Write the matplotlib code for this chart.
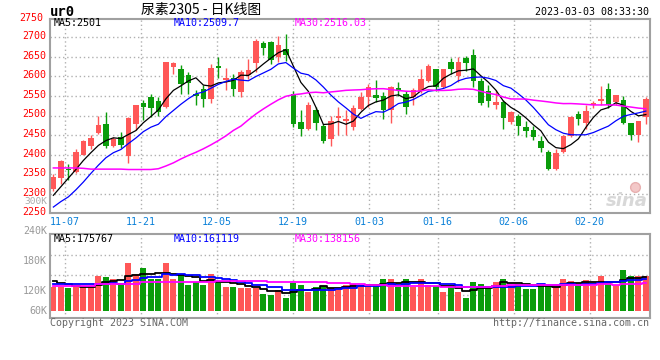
import numpy as np
import pandas as pd
import matplotlib
matplotlib.use('Agg')
import matplotlib.pyplot as plt
import matplotlib.transforms as mtransforms

# ur0 日K (2022-11-03 ~ 2023-03-02)
opens = [2313, 2340, 2364, 2355, 2400, 2423, 2456, 2479, 2423, 2445,
         2397, 2479, 2531, 2547, 2538, 2521, 2625, 2619, 2604, 2555,
         2568, 2543, 2628, 2591, 2595, 2560, 2604, 2634, 2685, 2687,
         2651, 2669, 2554, 2483, 2466, 2515, 2473, 2440, 2494, 2487,
         2472, 2517, 2547, 2553, 2549, 2514, 2570, 2554, 2547, 2562,
         2588, 2619, 2572, 2636, 2602, 2646, 2655, 2589, 2562, 2527,
         2534, 2483, 2500, 2472, 2462, 2436, 2406, 2364, 2406, 2449,
         2503, 2481, 2527, 2538, 2568, 2534, 2540, 2480, 2451, 2496]
highs = [2351, 2387, 2377, 2415, 2438, 2451, 2498, 2510, 2445, 2457,
         2497, 2528, 2540, 2554, 2547, 2636, 2636, 2629, 2611, 2566,
         2577, 2632, 2651, 2621, 2606, 2617, 2645, 2696, 2690, 2691,
         2704, 2709, 2564, 2513, 2534, 2523, 2479, 2500, 2521, 2513,
         2526, 2560, 2581, 2591, 2560, 2575, 2585, 2564, 2570, 2619,
         2632, 2619, 2619, 2647, 2651, 2653, 2670, 2595, 2577, 2566,
         2540, 2511, 2504, 2486, 2474, 2449, 2412, 2415, 2451, 2498,
         2511, 2526, 2538, 2575, 2583, 2553, 2551, 2480, 2487, 2547]
lows = [2308, 2326, 2336, 2352, 2398, 2415, 2453, 2417, 2419, 2417,
        2379, 2463, 2489, 2496, 2500, 2520, 2606, 2555, 2555, 2526,
        2521, 2532, 2596, 2566, 2549, 2547, 2594, 2611, 2655, 2632,
        2636, 2640, 2470, 2449, 2462, 2463, 2429, 2421, 2451, 2451,
        2462, 2515, 2521, 2534, 2492, 2481, 2549, 2503, 2526, 2557,
        2585, 2564, 2570, 2606, 2585, 2615, 2572, 2528, 2523, 2517,
        2466, 2479, 2451, 2446, 2438, 2406, 2361, 2361, 2404, 2445,
        2476, 2466, 2519, 2526, 2520, 2526, 2479, 2438, 2432, 2479]
closes = [2343, 2383, 2360, 2406, 2434, 2442, 2476, 2422, 2441, 2425,
          2494, 2526, 2523, 2520, 2509, 2636, 2634, 2581, 2583, 2549,
          2543, 2621, 2622, 2595, 2568, 2611, 2617, 2690, 2674, 2642,
          2681, 2656, 2479, 2466, 2527, 2480, 2434, 2485, 2499, 2491,
          2520, 2547, 2572, 2545, 2514, 2572, 2562, 2523, 2566, 2594,
          2626, 2572, 2619, 2619, 2636, 2634, 2589, 2531, 2537, 2534,
          2494, 2509, 2474, 2460, 2445, 2417, 2364, 2404, 2447, 2496,
          2491, 2511, 2531, 2543, 2526, 2553, 2480, 2451, 2486, 2543]
# 成交量 (千手)
volumes = [126, 126, 117, 130, 126, 130, 182, 175, 165, 144,
           252, 193, 222, 165, 165, 252, 165, 193, 135, 152,
           135, 193, 144, 126, 126, 121, 121, 117, 88, 82,
           109, 68, 144, 135, 100, 126, 130, 117, 117, 135,
           140, 135, 135, 135, 166, 166, 126, 166, 126, 166,
           135, 130, 100, 126, 100, 68, 152, 140, 130, 152,
           166, 135, 140, 114, 114, 135, 135, 135, 166, 156,
           130, 161, 130, 182, 156, 135, 214, 182, 182, 182]

# 均线开头几天依赖更早的数据, 这部分直接从图上读
ma5_head = [2296, 2318, 2340, 2362]
ma10_head = [2266, 2280, 2292, 2310, 2330, 2352, 2373, 2392, 2405]
ma30_head = [2366, 2366, 2366, 2366, 2365, 2363, 2363, 2363, 2363, 2363,
             2362, 2362, 2362, 2362, 2364, 2371, 2379, 2389, 2398, 2406,
             2415, 2425, 2436, 2448, 2462, 2473, 2489, 2504, 2517]
vma5_head = [156, 144, 138, 128]
vma10_head = [140, 140, 138, 138, 138, 138, 140, 142, 144]
vma30_head = [130, 130, 130, 130, 130, 130, 138, 138, 138, 138,
              138, 138, 148, 148, 148, 148, 148, 148, 148, 148,
              148, 148, 155, 155, 155, 155, 155, 155, 155]

tick_idx = [2, 12, 22, 32, 42, 51, 61, 71]
tick_labels = ['11-07', '11-21', '12-05', '12-19', '01-03', '01-16', '02-06', '02-20']
price_ticks = [2250, 2300, 2350, 2400, 2450, 2500, 2550, 2600, 2650, 2700]


def ma(values, n, head):
    out = pd.Series(values, dtype=float).rolling(n).mean().to_numpy()
    out[:len(head)] = head
    return out


RED = '#ff5757'
GREEN = '#0a9c0a'
GRID = '#b0b0b0'
BORDER = '#a0a0a0'
MONO = 'DejaVu Sans Mono'
FS = 7.2

x = np.arange(len(closes))
o = np.array(opens)
c = np.array(closes)
up = c >= o
colors = np.where(up, RED, GREEN)
# 网格线比K线间距略宽一点 (7.6px vs 7.5px)
grid_x = [i * 7.6 / 7.5 - 0.44 for i in tick_idx]

fig = plt.figure(figsize=(6.6, 3.6), dpi=100)
W, H = 660.0, 360.0
ax = fig.add_axes([50 / W, 1 - 213.3 / H, 600 / W, 194.3 / H])
axv = fig.add_axes([50 / W, 1 - 318.3 / H, 600 / W, 84 / H])

# ---- K线 ----
ax.vlines(x, lows, highs, colors=colors, lw=1)
body = np.maximum(np.abs(c - o), 2.5)
ax.bar(x, body, bottom=np.minimum(o, c), width=0.72, color=colors, linewidth=0)
ax.plot(x, ma(closes, 5, ma5_head), color='black', lw=0.9)
ax.plot(x, ma(closes, 10, ma10_head), color='#0000ff', lw=0.9)
ax.plot(x, ma(closes, 30, ma30_head), color='#ff00ff', lw=1.1)

ax.set_xlim(-0.45, 79.55)
ax.set_ylim(2250, 2747)
for p in price_ticks[1:]:
    ax.axhline(p, color=GRID, lw=1, ls=(0, (1, 2)), zorder=0)
for gx in grid_x:
    ax.axvline(gx, color=GRID, lw=1, ls=(0, (1, 2)), zorder=0)
ax.set_yticks(price_ticks)
ax.set_yticklabels([str(p) for p in price_ticks], color='red', family=MONO, fontsize=FS)
ax.set_xticks(grid_x)
ax.set_xticklabels(tick_labels, color='#0a80d8', family=MONO, fontsize=FS)
ax.tick_params(length=0, pad=3)
ax.tick_params(axis='x', pad=2.5)
shift = mtransforms.ScaledTranslation(0, 1.5 / 72, fig.dpi_scale_trans)
for lbl in ax.get_yticklabels():
    lbl.set_transform(lbl.get_transform() + shift)
ax.text(-0.012, 2750, '2750', transform=ax.get_yaxis_transform(), ha='right', va='center',
        color='red', family=MONO, fontsize=FS)

# sina 水印: 眼睛图标 + 文字
ax.plot([0.975], [0.135], marker='o', ms=7, color='#f3c8c8', mec='#e8b0b0',
        transform=ax.transAxes, zorder=0)
ax.text(0.997, 0.065, 'sina', transform=ax.transAxes, ha='right', va='center',
        fontsize=13, fontweight='bold', style='italic', color='#d8d8d8', zorder=0)

# ---- 成交量 ----
axv.bar(x, volumes, width=0.78, color=colors, linewidth=0)
axv.plot(x, ma(volumes, 5, vma5_head), color='black', lw=1.3, drawstyle='steps-mid')
axv.plot(x, ma(volumes, 10, vma10_head), color='#0000ff', lw=1.3, drawstyle='steps-mid')
axv.plot(x, ma(volumes, 30, vma30_head), color='#ff00ff', lw=1.3, drawstyle='steps-mid')
axv.set_xlim(-0.45, 79.55)
axv.set_ylim(-40, 401)
for fy in [0.277, 0.515, 0.754]:
    axv.axhline(-40 + fy * 441, color=GRID, lw=1, ls=(0, (1, 2)), zorder=0)
for gx in grid_x:
    axv.axvline(gx, color=GRID, lw=1, ls=(0, (1, 2)), zorder=0)
axv.set_xticks([])
axv.set_yticks([])

for a in (ax, axv):
    for s in a.spines.values():
        s.set_color(BORDER)
        s.set_linewidth(1.5)


def ftext(px, py, s, **kw):
    kw.setdefault('family', MONO)
    kw.setdefault('fontsize', FS)
    kw.setdefault('va', 'center')
    fig.text(px / W, 1 - py / H, s, **kw)


# 成交量纵轴标注 (位置照原图)
for lab, py in [('240K', 231), ('180K', 260.7), ('120K', 290.7), ('60K', 310.7)]:
    ftext(47, py, lab, ha='right', color='#999999')
ftext(47, 201.5, '300K', ha='right', color='#aaaaaa', fontsize=6.8)

ftext(50, 12, 'ur0', fontsize=10, fontweight='bold', color='black')
ftext(201, 10, '尿素2305 - 日K线图', ha='center', fontsize=10,
      family=['Noto Sans CJK SC', 'DejaVu Sans'], color='black')
ftext(649, 12, '2023-03-03 08:33:30', ha='right', color='black')

ftext(54, 23.5, 'MA5:2501', color='black')
ftext(174, 23.5, 'MA10:2509.7', color='#0000ff')
ftext(295, 23.5, 'MA30:2516.03', color='#ff00ff')

ftext(54, 238.5, 'MA5:175767', color='black')
ftext(174, 238.5, 'MA10:161119', color='#0000ff')
ftext(295, 238.5, 'MA30:138156', color='#ff00ff')

ftext(50, 323.5, 'Copyright 2023 SINA.COM', color='#666666')
ftext(649, 323.5, 'http://finance.sina.com.cn', ha='right', color='#666666')

fig.savefig('out.png', dpi=100)
